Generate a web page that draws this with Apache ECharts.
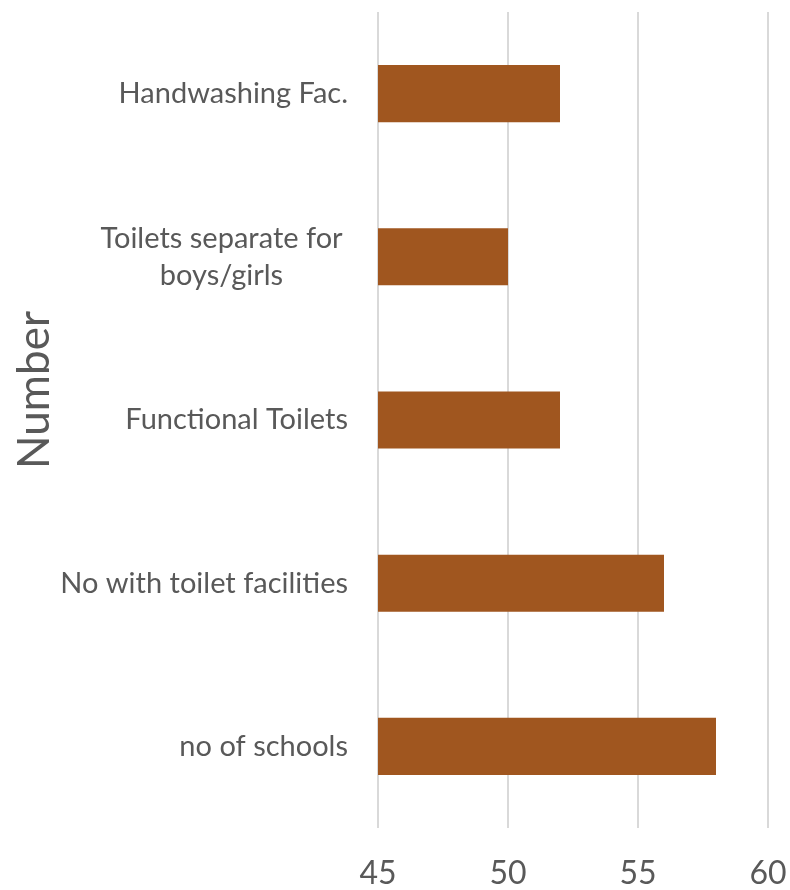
<!DOCTYPE html>
<html>
<head>
<meta charset="utf-8">
<script src="https://cdn.jsdelivr.net/npm/echarts@6/dist/echarts.min.js"></script>
<style>html,body{margin:0;padding:0;background:#fff}#c{width:790px;height:890px}</style>
</head>
<body>
<div id="c"></div>
<script>
var categories = ['no of schools', 'No with toilet facilities', 'Functional Toilets', 'Toilets separate for boys/girls', 'Handwashing Fac.'];
var values = [58, 56, 52, 50, 52];
var xTicks = [45, 50, 55, 60];
var axisTitle = 'Number';

var FONT = 'Lato, "Open Sans", sans-serif';
var chart = echarts.init(document.getElementById('c'));
chart.setOption({
  animation: false,
  backgroundColor: '#ffffff',
  grid: { left: 378, right: 22, top: 12, bottom: 62 },
  xAxis: {
    type: 'value',
    min: xTicks[0], max: xTicks[xTicks.length - 1], interval: 5,
    axisLine: { show: false },
    axisTick: { show: false },
    splitLine: { show: true, lineStyle: { color: '#d9d9d9', width: 2 } },
    axisLabel: { color: '#595959', fontSize: 32, fontFamily: FONT, margin: 30 }
  },
  yAxis: {
    type: 'category',
    data: categories,
    axisLine: { show: false },
    axisTick: { show: false },
    axisLabel: {
      color: '#595959', fontSize: 29, fontFamily: FONT, margin: 30, lineHeight: 37,
      formatter: function (v) {
        if (v === 'Toilets separate for boys/girls') {
          return '{c|Toilets separate for}\n{c|boys/girls}';
        }
        return v;
      },
      rich: { c: { width: 253, align: 'center', fontSize: 29, fontFamily: FONT, color: '#595959', lineHeight: 37 } }
    }
  },
  series: [{
    type: 'bar',
    data: values,
    barWidth: '35%',
    itemStyle: { color: '#a0561f' }
  }],
  graphic: [{
    type: 'text',
    x: 35, y: 390,
    rotation: Math.PI / 2,
    style: { text: axisTitle, fill: '#595959', font: '44px ' + FONT, align: 'center', verticalAlign: 'middle' }
  }]
});
</script>
</body>
</html>
